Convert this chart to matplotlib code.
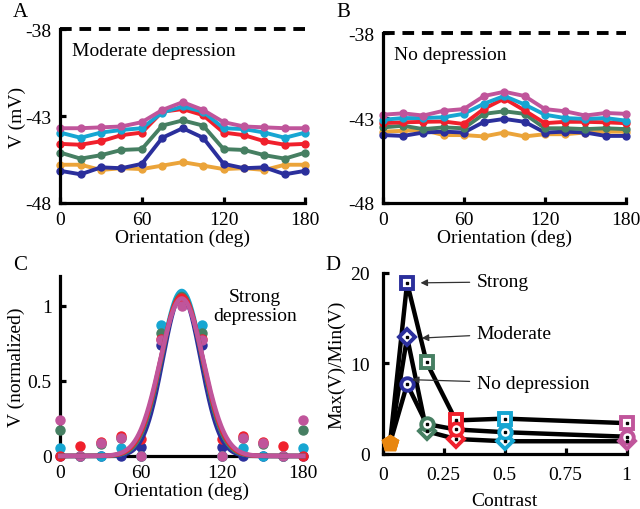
import numpy as np
import matplotlib
matplotlib.use("Agg")
import matplotlib.pyplot as plt

plt.rcParams['font.family'] = ['Liberation Serif', 'DejaVu Serif']
plt.rcParams['font.size'] = 14
plt.rcParams['axes.unicode_minus'] = False

# colours by contrast (lowest -> highest)
orange, blue, green, red, cyan, magenta = "#EBA43A", "#2B2F9C", "#467F62", "#F0202C", "#16A6D2", "#C0559B"
colors = [orange, blue, green, red, cyan, magenta]

angles = np.arange(0, 181, 15)

# ---- panel A: moderate depression (mV) ----
A_orange = [-45.8, -45.8, -46.1, -46.0, -46.05, -45.85, -45.65, -45.85, -46.05, -46.0, -46.1, -45.8, -45.8]
A_blue = [-46.15, -46.35, -45.95, -46.0, -45.75, -44.25, -43.7, -44.25, -45.75, -46.0, -45.95, -46.35, -46.15]
A_green = [-45.1, -45.45, -45.25, -44.95, -44.9, -43.55, -43.25, -43.55, -44.9, -44.95, -45.25, -45.45, -45.1]
A_red = [-44.6, -44.65, -44.45, -44.1, -43.95, -42.75, -42.6, -42.95, -43.95, -44.1, -44.45, -44.65, -44.6]
A_cyan = [-43.95, -44.25, -43.95, -43.8, -43.7, -42.8, -42.45, -42.75, -43.7, -43.75, -43.95, -44.25, -43.95]
A_magenta = [-43.7, -43.7, -43.65, -43.6, -43.35, -42.65, -42.2, -42.65, -43.35, -43.6, -43.65, -43.7, -43.7]

# ---- panel B: no depression (mV) ----
B_orange = [-43.8, -43.75, -43.7, -44.0, -44.0, -44.08, -43.85, -44.08, -43.95, -43.95, -43.85, -43.8, -43.8]
B_blue = [-44.0, -44.05, -43.85, -43.8, -43.85, -43.22, -43.05, -43.22, -43.85, -43.8, -43.85, -44.05, -44.05]
B_green = [-43.55, -43.45, -43.65, -43.55, -43.6, -42.75, -42.6, -42.75, -43.6, -43.6, -43.65, -43.6, -43.65]
B_red = [-43.3, -43.25, -43.22, -43.2, -43.35, -42.45, -41.85, -42.55, -43.3, -43.22, -43.22, -43.25, -43.3]
B_cyan = [-43.1, -43.0, -43.0, -42.95, -42.75, -42.15, -41.7, -42.2, -42.8, -43.0, -43.05, -43.0, -43.15]
B_magenta = [-42.8, -42.72, -42.85, -42.57, -42.47, -41.7, -41.45, -41.7, -42.47, -42.6, -42.85, -42.7, -42.75]

# ---- panel C: strong depression (normalized) ----
C_blue = [0.0, 0.0, 0.0, 0.0, 0.06, 0.74, 1.02, 0.74, 0.06, 0.0, 0.0, 0.0, 0.0]
C_cyan = [0.055, 0.0, 0.0, 0.055, 0.0, 0.87, 1.06, 0.87, 0.0, 0.055, 0.0, 0.0, 0.055]
C_green = [0.175, 0.0, 0.08, 0.12, 0.0, 0.82, 1.03, 0.82, 0.0, 0.12, 0.08, 0.0, 0.175]
C_red = [0.0, 0.065, 0.095, 0.13, 0.11, 0.78, 1.05, 0.78, 0.11, 0.13, 0.095, 0.065, 0.0]
C_magenta = [0.24, 0.0, 0.085, 0.12, 0.0, 0.77, 1.0, 0.77, 0.0, 0.12, 0.085, 0.0, 0.24]
# gaussian fits: amplitude, width (deg), same order as C series
C_fit_amp = [1.07, 1.10, 1.08, 1.07, 1.05]
C_fit_sigma = [14.0, 15.0, 15.0, 15.5, 16.0]

# ---- panel D: Max(V)/Min(V) vs contrast ----
contrast = [0.03, 0.1, 0.18, 0.3, 0.5, 1.0]
D_strong = [1.2, 18.9, 10.1, 3.7, 3.9, 3.4]
D_moderate = [1.2, 12.9, 2.5, 1.65, 1.4, 1.4]
D_nodep = [1.2, 7.7, 3.3, 2.7, 2.4, 1.9]

fig = plt.figure(figsize=(6.4, 5.1), dpi=100)


def style(ax, pad=6):
    for s in ["top", "right"]:
        ax.spines[s].set_visible(False)
    for s in ["left", "bottom"]:
        ax.spines[s].set_linewidth(2.3)
    ax.tick_params(direction="in", length=4, width=2.3, pad=pad)


def orient_panel(ax, series, label, ylab):
    for c, v in zip(colors, series):
        ax.plot(angles, v, "-o", color=c, lw=2.8, ms=5, clip_on=False)
    ax.plot([0, 180], [-38, -38], color="black", lw=2.8, ls=(0, (3, 2)), clip_on=False)
    ax.set_xlim(0, 180)
    ax.set_ylim(-48, -38)
    ax.set_xticks([0, 60, 120, 180])
    ax.set_yticks([-38, -43, -48])
    ax.set_xlabel("Orientation (deg)", labelpad=0)
    if ylab:
        ax.set_ylabel(ylab, labelpad=0)
    ax.text(8.5, -39.25, label, va="center", ha="left")
    style(ax)


axA = fig.add_axes([0.094, 0.6, 0.383, 0.341])
orient_panel(axA, [A_orange, A_blue, A_green, A_red, A_cyan, A_magenta], "Moderate depression", "V (mV)")

axB = fig.add_axes([0.598, 0.6, 0.380, 0.333])
orient_panel(axB, [B_orange, B_blue, B_green, B_red, B_cyan, B_magenta], "No depression", None)

# panel C
axC = fig.add_axes([0.094, 0.104, 0.380, 0.353])
xs = np.linspace(0, 180, 400)
C_colors = [blue, cyan, green, red, magenta]
for c, v in zip(C_colors, [C_blue, C_cyan, C_green, C_red, C_magenta]):
    axC.plot(angles, v, "o", color=c, ms=6.5, clip_on=False, zorder=3)
for c, a, s in zip(C_colors, C_fit_amp, C_fit_sigma):
    axC.plot(xs, a * np.exp(-(xs - 90) ** 2 / (2 * s ** 2)), color=c, lw=3.2, clip_on=False, zorder=4)
axC.set_xlim(0, 180)
axC.set_ylim(0, 1.2)
axC.set_xticks([0, 60, 120, 180])
axC.set_yticks([0, 0.5, 1])
axC.set_yticklabels(["0", "0.5", "1"])
axC.set_xlabel("Orientation (deg)", labelpad=0)
axC.set_ylabel("V (normalized)", labelpad=2)
axC.text(144, 1.0, "Strong\ndepression", ha="center", va="center", linespacing=1.1)
style(axC)

# panel D
axD = fig.add_axes([0.598, 0.108, 0.381, 0.355])
for vals, mk in [(D_strong, "s"), (D_moderate, "D"), (D_nodep, "o")]:
    axD.plot(contrast, vals, color="black", lw=3.2, zorder=2, clip_on=False)
    for i, (x, y) in enumerate(zip(contrast, vals)):
        if i == 0:
            axD.plot(x, y, "p", mfc="#E8860F", mec="#E8860F", ms=12, zorder=3, clip_on=False)
        else:
            axD.plot(x, y, mk, mfc="white", mec=colors[i], mew=2.8, ms=9 if mk != "D" else 8,
                     zorder=3, clip_on=False)
            axD.plot(x, y, "s", color="black", ms=2, zorder=4, clip_on=False)
arrow = dict(arrowstyle="-|>", color="#333333", lw=0.9, mutation_scale=10, shrinkA=3, shrinkB=0)
axD.annotate("Strong", xy=(0.155, 18.9), xytext=(0.385, 19.0), va="center", ha="left", arrowprops=arrow)
axD.annotate("Moderate", xy=(0.16, 12.8), xytext=(0.385, 13.3), va="center", ha="left", arrowprops=arrow)
axD.annotate("No depression", xy=(0.12, 8.2), xytext=(0.385, 7.8), va="center", ha="left", arrowprops=arrow)
axD.set_xlim(0, 1)
axD.set_ylim(0, 20)
axD.set_xticks([0, 0.25, 0.5, 0.75, 1])
axD.set_xticklabels(["0", "0.25", "0.5", "0.75", "1"])
axD.set_yticks([0, 10, 20])
axD.set_xlabel("Contrast", labelpad=6)
axD.set_ylabel("Max(V)/Min(V)", labelpad=4)
style(axD, pad=9)

for lab, x, y in [("A", 0.02, 0.975), ("B", 0.525, 0.975), ("C", 0.02, 0.48), ("D", 0.508, 0.48)]:
    fig.text(x, y, lab, fontsize=15, ha="left", va="center")

fig.savefig("out.png", dpi=100)
